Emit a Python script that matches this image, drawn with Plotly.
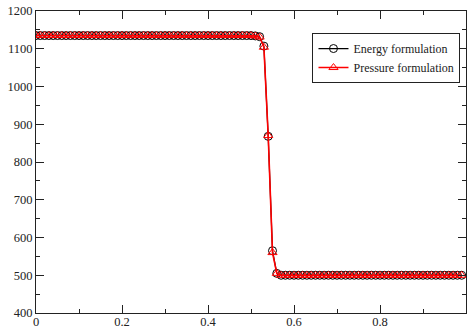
import plotly.graph_objects as go

x_vals = [
    0.00, 0.01, 0.02, 0.03, 0.04, 0.05, 0.06, 0.07, 0.08, 0.09,
    0.10, 0.11, 0.12, 0.13, 0.14, 0.15, 0.16, 0.17, 0.18, 0.19,
    0.20, 0.21, 0.22, 0.23, 0.24, 0.25, 0.26, 0.27, 0.28, 0.29,
    0.30, 0.31, 0.32, 0.33, 0.34, 0.35, 0.36, 0.37, 0.38, 0.39,
    0.40, 0.41, 0.42, 0.43, 0.44, 0.45, 0.46, 0.47, 0.48, 0.49,
    0.50, 0.51, 0.52, 0.53, 0.54, 0.55, 0.56, 0.57, 0.58, 0.59,
    0.60, 0.61, 0.62, 0.63, 0.64, 0.65, 0.66, 0.67, 0.68, 0.69,
    0.70, 0.71, 0.72, 0.73, 0.74, 0.75, 0.76, 0.77, 0.78, 0.79,
    0.80, 0.81, 0.82, 0.83, 0.84, 0.85, 0.86, 0.87, 0.88, 0.89,
    0.90, 0.91, 0.92, 0.93, 0.94, 0.95, 0.96, 0.97, 0.98, 0.99,
]

energy_vals = [
    1135, 1135, 1135, 1135, 1135, 1135, 1135, 1135, 1135, 1135,
    1135, 1135, 1135, 1135, 1135, 1135, 1135, 1135, 1135, 1135,
    1135, 1135, 1135, 1135, 1135, 1135, 1135, 1135, 1135, 1135,
    1135, 1135, 1135, 1135, 1135, 1135, 1135, 1135, 1135, 1135,
    1135, 1135, 1135, 1135, 1135, 1135, 1135, 1135, 1135, 1135,
    1135, 1134, 1132, 1107, 868, 565, 505, 500, 500, 500,
    500, 500, 500, 500, 500, 500, 500, 500, 500, 500,
    500, 500, 500, 500, 500, 500, 500, 500, 500, 500,
    500, 500, 500, 500, 500, 500, 500, 500, 500, 500,
    500, 500, 500, 500, 500, 500, 500, 500, 500, 500,
]

pressure_vals = [
    1135, 1135, 1135, 1135, 1135, 1135, 1135, 1135, 1135, 1135,
    1135, 1135, 1135, 1135, 1135, 1135, 1135, 1135, 1135, 1135,
    1135, 1135, 1135, 1135, 1135, 1135, 1135, 1135, 1135, 1135,
    1135, 1135, 1135, 1135, 1135, 1135, 1135, 1135, 1135, 1135,
    1135, 1135, 1135, 1135, 1135, 1135, 1135, 1135, 1135, 1135,
    1135, 1134, 1131, 1104, 870, 560, 505, 500, 500, 500,
    500, 500, 500, 500, 500, 500, 500, 500, 500, 500,
    500, 500, 500, 500, 500, 500, 500, 500, 500, 500,
    500, 500, 500, 500, 500, 500, 500, 500, 500, 500,
    500, 500, 500, 500, 500, 500, 500, 500, 500, 500,
]

x_ticks = [0, 0.2, 0.4, 0.6, 0.8]
x_tick_labels = ["0", "0.2", "0.4", "0.6", "0.8"]
y_ticks = [400, 500, 600, 700, 800, 900, 1000, 1100, 1200]

serif = "Liberation Serif"

fig = go.Figure()
fig.add_trace(go.Scatter(
    x=x_vals, y=energy_vals, mode="lines+markers", name="Energy formulation",
    line=dict(color="black", width=1.2),
    marker=dict(symbol="circle-open", size=8, color="black", line=dict(width=1)),
))
fig.add_trace(go.Scatter(
    x=x_vals, y=pressure_vals, mode="lines+markers", name="Pressure formulation",
    line=dict(color="red", width=1.6),
    marker=dict(symbol="triangle-up-open", size=8, color="red", line=dict(width=1)),
))

axis_common = dict(
    showline=True, linecolor="#222", linewidth=1, mirror="allticks",
    ticks="inside", ticklen=8, tickcolor="#222", tickwidth=1,
    showgrid=False, zeroline=False, automargin=False,
    tickfont=dict(family=serif, size=12.5, color="#222"),
)

fig.update_xaxes(
    range=[0, 1], tickvals=x_ticks, ticktext=x_tick_labels,
    ticklabelstandoff=-3,
    minor=dict(ticks="inside", ticklen=4, dtick=0.1, tick0=0, tickcolor="#222", showgrid=False),
    **axis_common,
)
fig.update_yaxes(
    range=[400, 1200], tickvals=y_ticks,
    minor=dict(ticks="inside", ticklen=4, dtick=50, tick0=400, tickcolor="#222", showgrid=False),
    **axis_common,
)

fig.update_layout(
    width=468, height=329,
    margin=dict(l=36, r=2, t=11, b=16),
    plot_bgcolor="white", paper_bgcolor="white",
    showlegend=True,
    legend=dict(
        x=0.643, y=0.927, xanchor="left", yanchor="top",
        bgcolor="white", bordercolor="#222", borderwidth=1,
        font=dict(family=serif, size=12, color="#222"),
        itemwidth=30, tracegroupgap=0,
    ),
)

fig.write_html("out.html")
